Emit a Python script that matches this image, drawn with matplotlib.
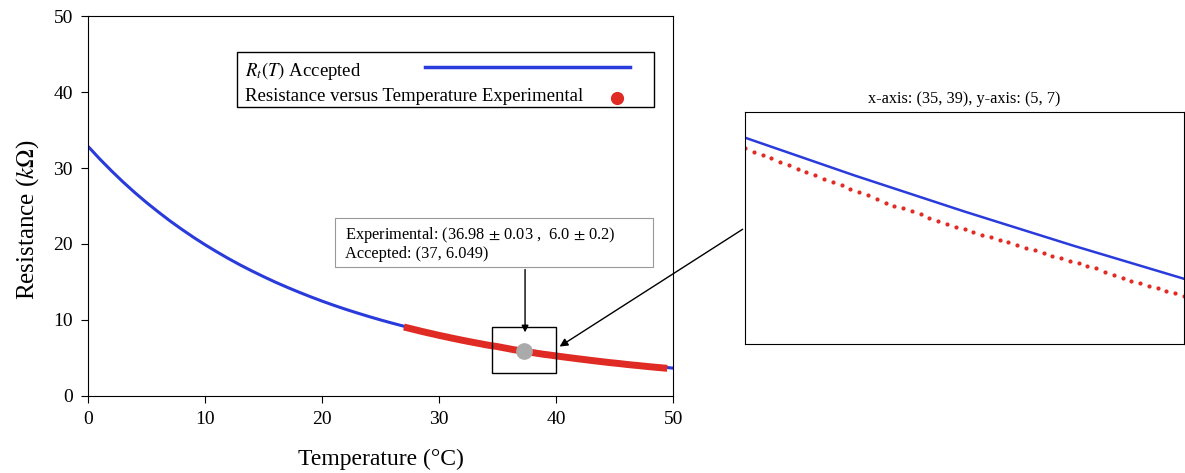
import matplotlib.pyplot as plt
from matplotlib.patches import Rectangle

plt.rcParams['font.family'] = ['Liberation Serif', 'DejaVu Serif']
plt.rcParams['mathtext.fontset'] = 'stix'

# accepted curve R_t(T), read at whole degrees
temp_acc = list(range(0, 51))
res_acc = [32.85, 31.19, 29.63, 28.15, 26.76, 25.45, 24.22, 23.04, 21.94, 20.89,
           19.90, 18.97, 18.08, 17.24, 16.45, 15.70, 14.98, 14.31, 13.67, 13.06,
           12.48, 11.93, 11.41, 10.92, 10.45, 10.00, 9.575, 9.171, 8.786, 8.419,
           8.071, 7.739, 7.422, 7.121, 6.834, 6.560, 6.298, 6.049, 5.811, 5.584,
           5.367, 5.159, 4.961, 4.772, 4.591, 4.418, 4.253, 4.095, 3.943, 3.798,
           3.660]

# experimental points (coarse outside the zoom window, dense inside)
temp_exp = [27.0, 27.5, 28.0, 28.5, 29.0, 29.5, 30.0, 30.5, 31.0, 31.5,
            32.0, 32.5, 33.0, 33.5, 34.0, 34.5,
            34.92, 35.00, 35.08, 35.16, 35.24, 35.32, 35.40, 35.48, 35.56, 35.64,
            35.72, 35.80, 35.88, 35.96, 36.04, 36.12, 36.20, 36.28, 36.36, 36.44,
            36.52, 36.60, 36.68, 36.76, 36.84, 36.92, 37.00, 37.08, 37.16, 37.24,
            37.32, 37.40, 37.48, 37.56, 37.64, 37.72, 37.80, 37.88, 37.96, 38.04,
            38.12, 38.20, 38.28, 38.36, 38.44, 38.52, 38.60, 38.68, 38.76, 38.84,
            38.92, 39.00, 39.08,
            39.5, 40.0, 40.5, 41.0, 41.5, 42.0, 42.5, 43.0, 43.5, 44.0,
            44.5, 45.0, 45.5, 46.0, 46.5, 47.0, 47.5, 48.0, 48.5, 49.0, 49.5]
res_exp = [9.07, 8.88, 8.69, 8.50, 8.32, 8.15, 7.97, 7.81, 7.64, 7.48,
           7.32, 7.17, 7.02, 6.88, 6.73, 6.60,
           6.512, 6.488, 6.464, 6.440, 6.417, 6.393, 6.370, 6.346, 6.323, 6.300,
           6.277, 6.254, 6.231, 6.208, 6.186, 6.162, 6.134, 6.110, 6.090, 6.071,
           6.053, 6.031, 6.005, 5.983, 5.964, 5.945, 5.926, 5.908, 5.890, 5.872,
           5.854, 5.836, 5.818, 5.800, 5.781, 5.763, 5.745, 5.727, 5.709, 5.691,
           5.674, 5.658, 5.631, 5.607, 5.589, 5.572, 5.555, 5.537, 5.520, 5.502,
           5.484, 5.467, 5.451,
           5.37, 5.26, 5.16, 5.06, 4.96, 4.86, 4.77, 4.67, 4.58, 4.49,
           4.40, 4.32, 4.24, 4.15, 4.07, 4.00, 3.92, 3.84, 3.77, 3.70, 3.63]

# highlighted point at 37 degC
point_T = 37.3
point_R = 5.85

labels = [r'$R_t(T)$ Accepted', 'Resistance versus Temperature Experimental']
note = ['Experimental: (36.98 $\\pm$ 0.03 ,  6.0 $\\pm$ 0.2)', 'Accepted: (37, 6.049)']

blue = '#2a3bdc'
red = '#e02a24'

fig = plt.figure(figsize=(11.85, 4.73), dpi=100)
ax = fig.add_axes([0.0743, 0.163, 0.4937, 0.803])

ax.plot(temp_acc, res_acc, color=blue, lw=2.2, zorder=2)
ax.plot(temp_exp, res_exp, color=red, lw=5, solid_capstyle='butt', zorder=3)
ax.plot([point_T], [point_R], 'o', color='#aaaaaa', ms=11, zorder=5)

ax.set_xlim(0, 50)
ax.set_ylim(0, 50)
ax.set_xticks(range(0, 51, 10))
ax.set_yticks(range(0, 51, 10))
ax.tick_params(direction='out', length=5, labelsize=14, pad=6)
ax.set_xlabel('Temperature (°C)', fontsize=17, labelpad=15)
ax.set_ylabel(r'Resistance ($k\Omega$)', fontsize=18)
ax.yaxis.set_label_coords(-0.080, 0.463)

# zoom window marker
ax.add_patch(Rectangle((34.5, 3.0), 5.5, 6.1, fill=False, ec='black', lw=1, zorder=6))

# legend drawn like the original (text left, sample right)
tr = ax.transAxes
ax.add_patch(Rectangle((0.2547, 0.7605), 0.7128, 0.1448, transform=tr,
                       fc='white', ec='black', lw=1, zorder=7))
ax.text(0.268, 0.855, labels[0], transform=tr, fontsize=13.5, va='center', zorder=8)
ax.text(0.268, 0.787, labels[1], transform=tr, fontsize=13.5, va='center', zorder=8)
ax.plot([0.576, 0.9265], [0.865, 0.865], transform=tr, color=blue, lw=2.5, zorder=8)
ax.plot([0.9043], [0.7834], 'o', transform=tr, color=red, ms=8.5, zorder=8)

# text box with the point values
ax.add_patch(Rectangle((0.422, 0.339), 0.544, 0.129, transform=tr,
                       fc='white', ec='#999999', lw=0.8, zorder=7))
ax.text(0.439, 0.424, note[0], transform=tr, fontsize=11.8, va='center', zorder=8)
ax.text(0.439, 0.374, note[1], transform=tr, fontsize=11.8, va='center', zorder=8)
ax.annotate('', xy=(37.35, 8.0), xytext=(37.35, 17.0),
            arrowprops=dict(arrowstyle='-|>', color='black', lw=1, mutation_scale=10))

# zoom inset
axin = fig.add_axes([0.6287, 0.273, 0.3705, 0.491])
axin.plot(temp_acc, res_acc, color=blue, lw=1.8)
axin.plot(temp_exp, res_exp, 'o', color=red, ms=2)
axin.set_xlim(35, 39)
axin.set_ylim(5.134, 6.74)
axin.set_xticks([])
axin.set_yticks([])
axin.set_title('x-axis: (35, 39), y-axis: (5, 7)', fontsize=11.7, pad=6)

ax.annotate('', xy=(40.1, 6.3), xycoords=ax.transData,
            xytext=(0.0, 0.5), textcoords=axin.transAxes,
            arrowprops=dict(arrowstyle='-|>', color='black', lw=1, mutation_scale=12),
            annotation_clip=False)

fig.savefig('out.png', dpi=100)
